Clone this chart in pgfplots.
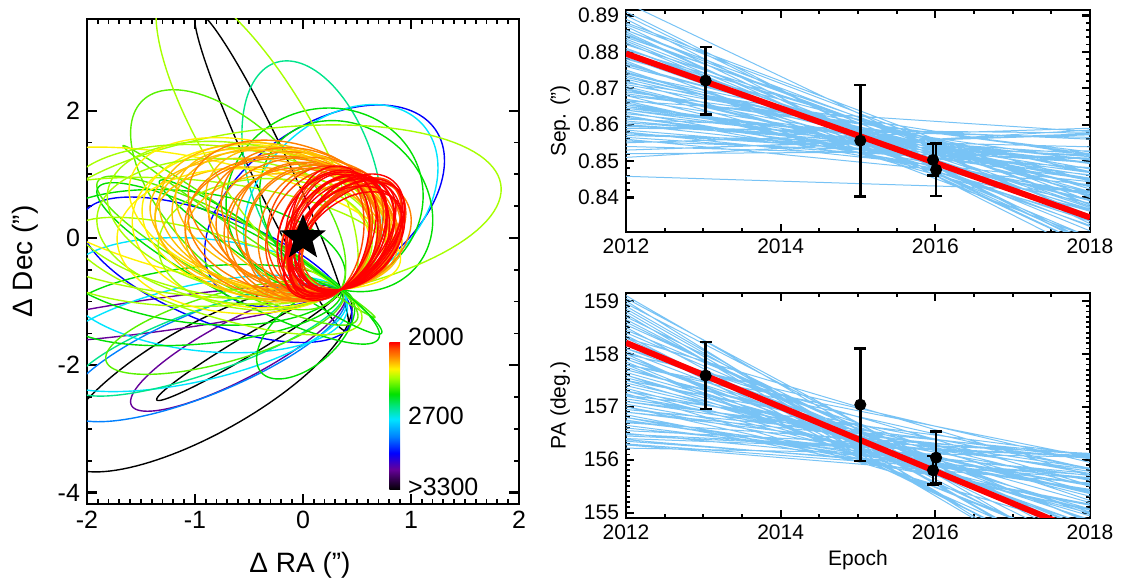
\documentclass[border=0pt]{standalone}
\usepackage{fontspec}
\setmainfont{Liberation Sans}
\usepackage{pgfplots}
\pgfplotsset{compat=1.18}

% rainbow levels used for the orbit colouring (2000 ... >3300)
\definecolor{c0}{rgb}{1,0,0}
\definecolor{c1}{rgb}{1,0.28,0}
\definecolor{c2}{rgb}{1,0.5,0}
\definecolor{c3}{rgb}{1,0.75,0}
\definecolor{c4}{rgb}{1,0.95,0}
\definecolor{c5}{rgb}{0.65,1,0}
\definecolor{c6}{rgb}{0.35,0.95,0}
\definecolor{c7}{rgb}{0,0.88,0}
\definecolor{c8}{rgb}{0,0.9,0.55}
\definecolor{c9}{rgb}{0,0.9,1}
\definecolor{c10}{rgb}{0,0.5,1}
\definecolor{c11}{rgb}{0,0,1}
\definecolor{c12}{rgb}{0.4,0,0.6}
\definecolor{c13}{rgb}{0,0,0}
\definecolor{mcline}{RGB}{120,195,245}

% the path is mapped onto the 25bp--75bp band of the shading
\pgfdeclareverticalshading{cbar}{100bp}{color(0bp)=(c13); color(25bp)=(c13); color(32bp)=(c12); color(37.5bp)=(c11); color(43bp)=(c10); color(49bp)=(c9); color(53bp)=(c8); color(57.5bp)=(c7); color(60.5bp)=(c6); color(63bp)=(c5); color(66bp)=(c4); color(68bp)=(c3); color(70.5bp)=(c2); color(73bp)=(c1); color(75bp)=(c0); color(100bp)=(c0)}

% filled five-pointed star
\pgfdeclareplotmark{fstar}{%
  \pgfpathmoveto{\pgfpointpolar{90}{\pgfplotmarksize}}%
  \pgfpathlineto{\pgfpointpolar{126}{0.42\pgfplotmarksize}}%
  \pgfpathlineto{\pgfpointpolar{162}{\pgfplotmarksize}}%
  \pgfpathlineto{\pgfpointpolar{198}{0.42\pgfplotmarksize}}%
  \pgfpathlineto{\pgfpointpolar{234}{\pgfplotmarksize}}%
  \pgfpathlineto{\pgfpointpolar{270}{0.42\pgfplotmarksize}}%
  \pgfpathlineto{\pgfpointpolar{306}{\pgfplotmarksize}}%
  \pgfpathlineto{\pgfpointpolar{342}{0.42\pgfplotmarksize}}%
  \pgfpathlineto{\pgfpointpolar{18}{\pgfplotmarksize}}%
  \pgfpathlineto{\pgfpointpolar{54}{0.42\pgfplotmarksize}}%
  \pgfpathclose\pgfusepathqfill}

% projected orbit through the companion position (0.35,-0.81):
% centre (#1,#2), conjugate semi-diameter (#3,#4), colour #5
\newcommand\orbit[5]{%
  \addplot[draw=#5, line width=0.7pt, domain=0:360, samples=121]
    ({#1+(0.35-(#1))*cos(x)+(#3)*sin(x)}, {#2+(-0.81-(#2))*cos(x)+(#4)*sin(x)});}

\pgfplotsset{
  idl/.style={
    scale only axis, anchor=south west,
    tick align=inside,
    axis line style={line width=1.3pt},
    major tick style={line width=1.1pt, black},
    minor tick style={line width=0.9pt, black},
    /pgf/number format/assume math mode=true,
  }
}

\begin{document}
\begin{tikzpicture}
\path[use as bounding box] (0,0) rectangle (563pt,290.5pt);

%---------------- orbits on the sky ----------------
\begin{axis}[idl,
  at={(43.5pt,38.5pt)}, width=216pt, height=242.5pt,
  xmin=-2, xmax=2, ymin=-4.18, ymax=3.44,
  xtick={-2,-1,0,1,2}, xticklabels={-2,-1,0,1,2},
  ytick={-4,-2,0,2}, yticklabels={-4,-2,0,2},
  minor x tick num=9, minor y tick num=3,
  major tick length=5pt, minor tick length=2.5pt,
  tick label style={font=\fontsize{12.5}{14}\selectfont},
  label style={font=\fontsize{14}{16}\selectfont},
  xlabel={Δ RA (")}, ylabel={Δ Dec (")},
  xlabel style={at={(axis description cs:0.493,-0.126)}, anchor=center},
  ylabel style={at={(axis description cs:-0.1435,0.5)}, anchor=center},
]
% long-period solutions
\orbit{-0.9}{-2.205}{-0.52}{0.467}{c13}
\orbit{-0.5}{-1.68}{-0.09}{0.088}{c13}
\orbit{-0.29}{1.045}{-0.316}{1.684}{c13}
\orbit{-1.3}{-1.2}{-0.05}{0.25}{c12}
\orbit{-0.6}{-1.75}{-0.3}{0.25}{c12}
\orbit{-0.8}{-0.5}{-0.5}{1.1}{c11}
\orbit{0.2}{0.5}{-1.1}{-0.9}{c11}
\orbit{-0.9}{-1.8}{-0.35}{0.45}{c10}
\orbit{-1.0}{-1.5}{-0.4}{0.6}{c9}
\orbit{0.35}{0.6}{0.9}{0.5}{c9}
\orbit{-0.9}{-0.9}{-0.4}{0.9}{c9}
\orbit{-0.875}{-1.605}{-0.245}{0.378}{c8}
\orbit{0.085}{0.985}{0.594}{0.088}{c8}
\orbit{-1.025}{-0.305}{0.345}{0.939}{c7}
\orbit{-0.925}{-1.055}{-0.113}{0.589}{c7}
\orbit{-0.725}{-1.405}{-0.242}{0.437}{c6}
\orbit{0.025}{-1.505}{-0.317}{0.148}{c7}
\orbit{-0.7}{-0.2}{-0.6}{1.0}{c6}
\orbit{-0.6}{-0.4}{-0.9}{1.2}{c7}
\orbit{-0.5}{0.1}{-0.8}{1.0}{c6}
\orbit{-0.8}{-0.6}{-0.7}{0.9}{c5}
\orbit{-0.3}{-0.3}{-0.8}{1.1}{c7}
\orbit{-0.6}{0.6}{0.3}{1.0}{c6}
\orbit{0.2}{0.6}{0.9}{0.3}{c7}
\orbit{0.4}{0.5}{0.8}{-0.3}{c7}
\orbit{-0.35}{0.35}{-2.07}{-0.83}{c5}
\orbit{-0.425}{1.595}{0.524}{0.169}{c5}
% intermediate periods
\orbit{-0.9}{0.3}{1.3}{0.2}{c4}
\orbit{-1.0}{0.0}{1.2}{0.5}{c5}
\orbit{-0.35}{0.25}{0.90}{0.60}{c4}
\orbit{-0.45}{0.15}{0.80}{0.80}{c4}
\orbit{-0.25}{0.20}{1.00}{0.30}{c3}
\orbit{-0.50}{0.30}{1.00}{0.50}{c5}
\orbit{-0.30}{0.10}{0.85}{0.45}{c3}
\orbit{-0.20}{0.00}{0.70}{0.60}{c3}
\orbit{-0.60}{0.10}{0.90}{0.70}{c5}
\orbit{-0.40}{0.35}{0.95}{0.40}{c4}
\orbit{-0.55}{-0.05}{0.75}{0.85}{c4}
\orbit{-0.35}{-0.10}{0.70}{0.75}{c5}
\orbit{-0.15}{0.30}{0.90}{0.20}{c3}
\orbit{-0.70}{0.25}{1.10}{0.60}{c5}
\orbit{0.00}{0.25}{0.80}{0.30}{c2}
\orbit{-0.10}{0.20}{0.85}{0.40}{c2}
\orbit{-0.05}{0.30}{0.75}{0.20}{c3}
\orbit{-0.20}{0.25}{0.85}{0.50}{c3}
\orbit{0.05}{0.20}{0.80}{0.35}{c2}
\orbit{-0.15}{0.15}{0.80}{0.55}{c2}
\orbit{-0.25}{0.30}{0.90}{0.45}{c3}
\orbit{0.05}{0.30}{0.75}{0.15}{c2}
\orbit{-0.30}{0.20}{0.85}{0.60}{c3}
\orbit{-0.10}{0.35}{0.85}{0.25}{c2}
% short periods
\orbit{0.10}{0.05}{0.45}{0.60}{c2}
\orbit{0.05}{0.05}{0.50}{0.60}{c2}
\orbit{0.08}{0.10}{0.55}{0.50}{c2}
\orbit{0.00}{0.10}{0.60}{0.55}{c2}
\orbit{0.40}{0.05}{0.60}{0.15}{c2}
\orbit{-0.05}{0.05}{0.55}{0.60}{c2}
\orbit{0.05}{0.15}{0.60}{0.40}{c2}
\orbit{0.22}{0.05}{0.32}{0.55}{c1}
\orbit{0.29}{0.10}{0.45}{0.40}{c1}
\orbit{0.25}{-0.02}{0.38}{0.50}{c1}
\orbit{0.40}{0.02}{0.55}{0.30}{c1}
\orbit{0.19}{0.02}{0.40}{0.55}{c1}
\orbit{0.22}{0.10}{0.55}{0.45}{c1}
\orbit{0.42}{0.00}{0.52}{0.35}{c1}
\orbit{0.45}{0.00}{0.45}{0.05}{c1}
\orbit{0.19}{0.12}{0.50}{0.40}{c1}
\orbit{0.45}{0.05}{0.45}{0.25}{c1}
\orbit{0.45}{0.05}{0.45}{0.20}{c1}
\orbit{0.32}{0.05}{0.52}{0.35}{c0}
\orbit{0.37}{0.00}{0.55}{0.45}{c0}
\orbit{0.27}{0.00}{0.40}{0.55}{c0}
\orbit{0.45}{-0.05}{0.48}{0.15}{c0}
\orbit{0.42}{0.00}{0.50}{0.10}{c0}
\orbit{0.35}{0.08}{0.50}{0.25}{c0}
\orbit{0.39}{0.05}{0.52}{0.20}{c0}
\orbit{0.32}{0.12}{0.48}{0.15}{c0}
\orbit{0.27}{0.08}{0.50}{0.35}{c0}
\orbit{0.34}{-0.03}{0.52}{0.50}{c0}
\orbit{0.29}{0.15}{0.40}{0.20}{c0}
\orbit{0.25}{0.04}{0.35}{0.45}{c0}
\orbit{0.33}{0.00}{0.45}{0.45}{c0}
\orbit{0.37}{0.05}{0.40}{0.30}{c0}
\orbit{0.43}{0.08}{0.50}{0.25}{c0}
\orbit{0.41}{-0.02}{0.53}{0.40}{c0}
% host star
\addplot[only marks, mark=fstar, mark size=12pt, black] coordinates {(0,0)};
% colour bar
\shade[shading=cbar] (axis cs:0.80,-3.96) rectangle (axis cs:0.90,-1.64);
\node[anchor=west, font=\fontsize{12.5}{14}\selectfont, inner sep=0pt] at (axis cs:0.97,-1.56) {2000};
\node[anchor=west, font=\fontsize{12.5}{14}\selectfont, inner sep=0pt] at (axis cs:0.97,-2.80) {2700};
\node[anchor=west, font=\fontsize{12.5}{14}\selectfont, inner sep=0pt] at (axis cs:0.97,-3.91) {>3300};
\end{axis}

%---------------- separation ----------------
\begin{axis}[idl,
  at={(313pt,174.5pt)}, width=232pt, height=111pt,
  xmin=2012, xmax=2018, ymin=0.8305, ymax=0.8915,
  xtick={2012,2014,2016,2018}, xticklabels={2012,2014,2016,2018},
  ytick={0.84,0.85,0.86,0.87,0.88,0.89},
  yticklabels={0.84,0.85,0.86,0.87,0.88,0.89},
  minor x tick num=3, minor y tick num=4,
  major tick length=4pt, minor tick length=2pt,
  tick label style={font=\fontsize{10.5}{12}\selectfont},
  label style={font=\fontsize{10.5}{12}\selectfont},
  ylabel={Sep. (")},
  ylabel style={at={(axis description cs:-0.142,0.5)}, anchor=center},
]
\addplot[mcline, line width=0.5pt, empty line=jump] table {
2012 0.8935
2018 0.8328

2012 0.8910
2018 0.8270

2012 0.8880
2018 0.8400

2012 0.8870
2018 0.8265

2012 0.8860
2018 0.8381

2012 0.8850
2018 0.8277

2012 0.8840
2018 0.8403

2012 0.8830
2018 0.8308

2012 0.8820
2018 0.8404

2012 0.8810
2018 0.8320

2012 0.8800
2018 0.8376

2012 0.8790
2018 0.8372

2012 0.8780
2018 0.8447

2012 0.8770
2018 0.8323

2012 0.8760
2018 0.8429

2012 0.8750
2018 0.8335

2012 0.8740
2018 0.8431

2012 0.8735
2018 0.8413

2012 0.8730
2018 0.8446

2012 0.8720
2018 0.8362

2012 0.8710
2018 0.8478

2012 0.8700
2018 0.8394

2012 0.8690
2018 0.8520

2012 0.8680
2018 0.8365

2012 0.8670
2018 0.8471

2012 0.8660
2018 0.8407

2012 0.8650
2018 0.8493

2012 0.8640
2018 0.8468

2012 0.8630
2018 0.8494

2012 0.8620
2018 0.8450

2012 0.8610
2018 0.8496

2012 0.8600
2018 0.8462

2012 0.8590
2018 0.8577

2012 0.8580
2018 0.8443

2012 0.8570
2018 0.8539

2012 0.8560
2018 0.8435

2012 0.8550
2018 0.8590

2012 0.8540
2018 0.8506

2012 0.8530
2018 0.8572

2012 0.8520
2018 0.8528

2012 0.8510
2018 0.8585

2012 0.8458
2018 0.8418

2012 0.8875
2018 0.8390

2012 0.8855
2018 0.8264

2012 0.8845
2018 0.8380

2012 0.8825
2018 0.8291

2012 0.8805
2018 0.8423

2012 0.8785
2018 0.8344

2012 0.8765
2018 0.8416

2012 0.8745
2018 0.8368

2012 0.8725
2018 0.8429

2012 0.8705
2018 0.8391

2012 0.8685
2018 0.8502

2012 0.8665
2018 0.8384

2012 0.8645
2018 0.8496

2012 0.8625
2018 0.8407

2012 0.8605
2018 0.8519

2012 0.8585
2018 0.8480

2012 0.8575
2018 0.8516

2012 0.8565
2018 0.8482

2012 0.8595
2018 0.8565

2012 0.8655
2018 0.8460

2012 0.8715
2018 0.8515

2012 0.8785
2018 0.8364

2012 0.8835
2018 0.8336

2012 0.8775
2018 0.8290

2012 0.8695
2018 0.8446

2012 0.8635
2018 0.8411

2012 0.8575
2018 0.8496

2012 0.8555
2018 0.8508

2012 0.8530
2018 0.8575

2012 0.8600
2018 0.8512

2012 0.8680
2018 0.8525

2012 0.8620
2018 0.8470

2012 0.8740
2018 0.8471

2012 0.8890
2018 0.8244

2012 0.8860
2018 0.8351

2012 0.8900
2018 0.8278

2012 0.8810
2018 0.8350

2012 0.8700
2018 0.8344

2012 0.8650
2018 0.8453

2012 0.8615
2018 0.8560

2012 0.8665
2018 0.8581

2012 0.8640
2018 0.8505
};
\addplot[red, line width=3pt] coordinates {(2012,0.8795) (2018,0.8345)};
\addplot[black, only marks, mark=*, mark size=2.8pt,
  error bars/.cd, y dir=both, y explicit,
  error bar style={line width=1.2pt, black},
  error mark options={rotate=90, mark size=3pt, line width=1.2pt, black}]
  table[x index=0, y index=1, y error index=2] {
2013.03 0.8721 0.0093
2015.03 0.8556 0.0153
2015.97 0.8503 0.0043
2016.01 0.8476 0.0072
};
\end{axis}

%---------------- position angle ----------------
\begin{axis}[idl,
  at={(313pt,31.5pt)}, width=232pt, height=112.5pt,
  xmin=2012, xmax=2018, ymin=154.9, ymax=159.15,
  xtick={2012,2014,2016,2018}, xticklabels={2012,2014,2016,2018},
  ytick={155,156,157,158,159}, yticklabels={155,156,157,158,159},
  minor x tick num=3, minor y tick num=9,
  major tick length=4pt, minor tick length=2pt,
  tick label style={font=\fontsize{10.5}{12}\selectfont},
  label style={font=\fontsize{10.5}{12}\selectfont},
  xlabel={Epoch}, ylabel={PA (deg.)},
  xlabel style={at={(axis description cs:0.5,-0.187)}, anchor=center},
  ylabel style={at={(axis description cs:-0.142,0.5)}, anchor=center},
]
\addplot[mcline, line width=0.5pt, empty line=jump] table {
2012 159.10
2018 154.05

2012 159.00
2018 153.57

2012 158.90
2018 153.89

2012 158.80
2018 153.72

2012 158.70
2018 154.44

2012 158.60
2018 154.31

2012 158.50
2018 153.83

2012 158.40
2018 154.65

2012 158.30
2018 154.22

2012 158.20
2018 154.84

2012 158.10
2018 154.97

2012 158.00
2018 154.09

2012 157.90
2018 155.01

2012 157.80
2018 154.33

2012 157.70
2018 155.40

2012 157.60
2018 154.77

2012 157.50
2018 154.94

2012 157.40
2018 155.36

2012 157.30
2018 154.99

2012 157.20
2018 155.61

2012 157.10
2018 155.78

2012 157.00
2018 155.05

2012 156.90
2018 155.82

2012 156.80
2018 155.14

2012 156.70
2018 156.10

2012 156.60
2018 155.74

2012 156.50
2018 155.66

2012 156.40
2018 156.08

2012 156.30
2018 155.65

2012 156.22
2018 156.05

2012 158.95
2018 154.41

2012 158.75
2018 153.60

2012 158.55
2018 154.59

2012 158.35
2018 153.89

2012 158.15
2018 155.23

2012 157.95
2018 154.62

2012 157.75
2018 154.87

2012 157.55
2018 155.31

2012 157.35
2018 155.05

2012 157.15
2018 155.84

2012 156.95
2018 156.09

2012 156.75
2018 155.43

2012 156.55
2018 156.12

2012 156.35
2018 155.71

2012 156.45
2018 156.06

2012 156.65
2018 155.55

2012 156.85
2018 155.16

2012 157.05
2018 155.51

2012 157.25
2018 154.67

2012 157.45
2018 155.38

2012 157.65
2018 155.19

2012 157.85
2018 154.29

2012 158.05
2018 154.70

2012 158.25
2018 153.91

2012 158.45
2018 154.81

2012 158.65
2018 154.12

2012 158.85
2018 153.88

2012 159.05
2018 154.34

2012 157.00
2018 155.40

2012 156.90
2018 156.02

2012 157.10
2018 156.03

2012 156.60
2018 155.74

2012 157.30
2018 155.74

2012 156.80
2018 155.44

2012 157.50
2018 155.84

2012 156.38
2018 155.64

2012 156.28
2018 155.56

2012 157.70
2018 155.50

2012 157.90
2018 154.76

2012 158.10
2018 155.52

2012 157.22
2018 156.09

2012 156.72
2018 155.70

2012 156.48
2018 156.07

2012 157.60
2018 155.07

2012 157.80
2018 155.83

2012 158.00
2018 155.95

2012 158.30
2018 155.70

2012 157.80
2018 156.05
};
\addplot[red, line width=3pt] coordinates {(2012,158.21) (2018,154.57)};
\addplot[black, only marks, mark=*, mark size=2.8pt,
  error bars/.cd, y dir=both, y explicit,
  error bar style={line width=1.2pt, black},
  error mark options={rotate=90, mark size=3pt, line width=1.2pt, black}]
  table[x index=0, y index=1, y error index=2] {
2013.03 157.59 0.63
2015.03 157.04 1.06
2015.97 155.80 0.27
2016.01 156.04 0.49
};
\end{axis}
\end{tikzpicture}
\end{document}
